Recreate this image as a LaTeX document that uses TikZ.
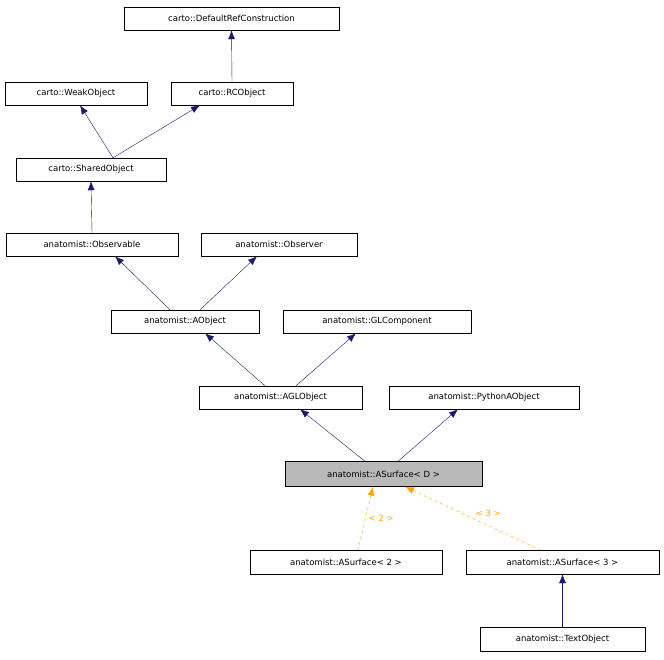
\documentclass[tikz,border=0pt]{standalone}
\usepackage{fontspec}
\setmainfont{DejaVu Sans}
\usetikzlibrary{arrows.meta}
\definecolor{edgeblue}{HTML}{191970}
\definecolor{tmplorange}{HTML}{FFA500}
\tikzset{
  cls/.style={rectangle, draw=black, fill=white, minimum height=23pt, inner sep=0pt, font=\fontsize{8.5}{10}\selectfont},
  inherit/.style={edgeblue, {Latex[length=9pt,width=7pt]}-},
  tmpl/.style={tmplorange, dashed, {Latex[length=9pt,width=7pt]}-},
  lbl/.style={font=\fontsize{8.5}{10}\selectfont, fill=white, inner sep=1pt}
}
\begin{document}
\begin{tikzpicture}[x=1pt, y=-1pt]
\useasboundingbox (0,0) rectangle (664,659);

% base classes
\node (defref) [cls, minimum width=215pt] at (231.5,18.5) {carto::DefaultRefConstruction};
\node (weak) [cls, minimum width=142pt] at (76,93.5) {carto::WeakObject};
\node (rc) [cls, minimum width=122pt] at (232,93.5) {carto::RCObject};
\node (shared) [cls, minimum width=150pt] at (91,169.5) {carto::SharedObject};
\node (observable) [cls, minimum width=172pt] at (92,244.5) {anatomist::Observable};
\node (observer) [cls, minimum width=156pt] at (279,244.5) {anatomist::Observer};
\node (aobject) [cls, minimum width=148pt] at (185,321.5) {anatomist::AObject};
\node (glcomp) [cls, minimum width=188pt] at (377,321.5) {anatomist::GLComponent};
\node (aglobject) [cls, minimum width=163pt] at (280.5,397.5) {anatomist::AGLObject};
\node (pyobject) [cls, minimum width=190pt] at (484,397.5) {anatomist::PythonAObject};

% surfaces
\node (surfd) [cls, fill=gray!55, minimum width=197pt, minimum height=25pt] at (383.5,474) {anatomist::ASurface< D >};
\node (surf2) [cls, minimum width=192pt, minimum height=24pt] at (346,562) {anatomist::ASurface< 2 >};
\node (surf3) [cls, minimum width=193pt, minimum height=24pt] at (562.5,562) {anatomist::ASurface< 3 >};
\node (textobj) [cls, minimum width=165pt, minimum height=24pt] at (562.5,639) {anatomist::TextObject};

% inheritance
\draw [inherit] (defref.south) -- (rc.north);
\draw [inherit] ([xshift=4pt]weak.south) -- ([xshift=22pt]shared.north);
\draw [inherit] ([xshift=-32pt]rc.south) -- ([xshift=22pt]shared.north);
\draw [inherit] (shared.south) -- (observable.north);
\draw [inherit] ([xshift=23pt]observable.south) -- ([xshift=-15pt]aobject.north);
\draw [inherit] ([xshift=-22pt]observer.south) -- ([xshift=15pt]aobject.north);
\draw [inherit] ([xshift=20pt]aobject.south) -- ([xshift=-15.5pt]aglobject.north);
\draw [inherit] ([xshift=-21pt]glcomp.south) -- ([xshift=15.5pt]aglobject.north);
\draw [inherit] ([xshift=19.5pt]aglobject.south) -- ([xshift=-18.5pt]surfd.north);
\draw [inherit] ([xshift=-26pt]pyobject.south) -- ([xshift=14.5pt]surfd.north);
\draw [inherit] (surf3.south) -- (textobj.north);

% template instances
\draw [tmpl] ([xshift=-10.5pt]surfd.south) -- node[lbl, right, xshift=2pt, fill=none] {< 2 >} ([xshift=12pt]surf2.north);
\draw [tmpl] ([xshift=21.5pt]surfd.south) -- node[lbl, above right, xshift=2pt, fill=none] {< 3 >} ([xshift=-22.5pt]surf3.north);
\end{tikzpicture}
\end{document}
